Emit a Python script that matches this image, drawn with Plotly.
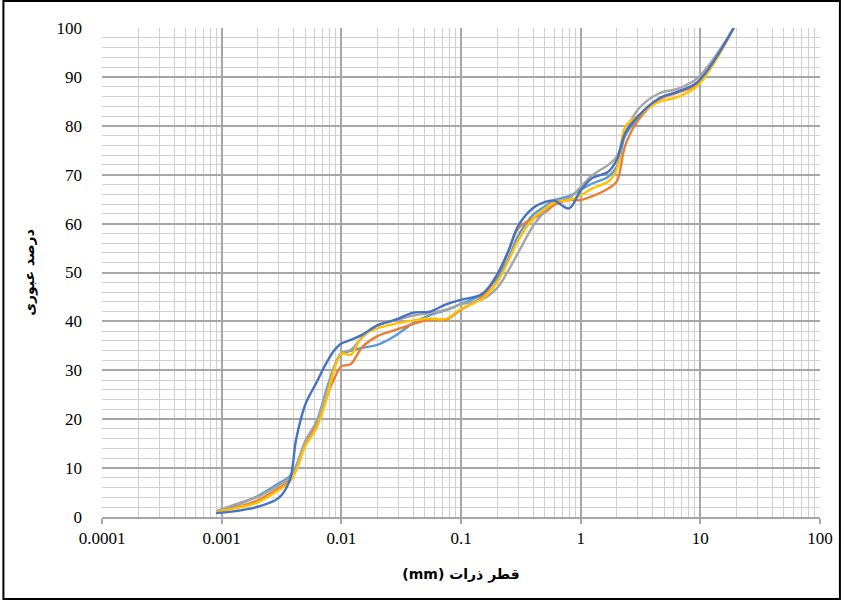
import plotly.graph_objects as go

# particle diameter (mm) at which passing percentages were read
diameter_mm = [0.0009, 0.0013, 0.002, 0.003, 0.0037, 0.0042, 0.005, 0.0062, 0.0075, 0.0088,
               0.01, 0.012, 0.015, 0.02, 0.028, 0.04, 0.055, 0.075, 0.1, 0.15, 0.2, 0.25,
               0.3, 0.4, 0.5, 0.6, 0.8, 1.0, 1.25, 1.7, 2.0, 2.36, 3.0, 4.5, 6.5, 9.5, 19]

series_light_blue = [1.1, 2.4, 4.3, 6.9, 8.3, 10.5, 15.5, 19.5, 26, 31, 33.3, 34.0, 34.6, 35.2,
                     37.0, 39.7, 41.3, 42.3, 43.6, 45.5, 48.8, 53, 57.5, 61.8, 63.5, 64.8, 65.6,
                     66.9, 68.2, 69.6, 71.6, 78.0, 81.5, 85.5, 87.0, 88.8, 100]
series_orange = [1.0, 1.9, 3.4, 5.9, 7.5, 10, 15, 19, 24.5, 28.5, 30.8, 31.3, 34.8, 37.0, 38.2,
                 39.5, 40.3, 40.4, 42.4, 45.0, 49.5, 54.5, 59.0, 61.1, 62.2, 63.8, 64.8, 64.8,
                 65.6, 67.2, 68.6, 76.0, 81.0, 85.4, 86.8, 88.6, 100]
series_gray = [1.2, 2.6, 4.1, 6.5, 8.0, 10.5, 15.5, 19.5, 25.5, 31, 33.6, 34.2, 36.8, 39.2, 40.2,
               41.2, 41.7, 42.4, 43.5, 44.5, 46.8, 50.5, 54.0, 59.5, 62.5, 64.5, 65.2, 67.5,
               69.9, 72.0, 73.7, 78.5, 83.3, 86.6, 87.6, 89.8, 100]
series_yellow = [1.0, 1.8, 3.0, 5.5, 7.2, 9.5, 14.5, 18.2, 24, 30.5, 33.4, 33.2, 37.0, 38.6,
                 39.5, 40.2, 40.6, 40.5, 42.6, 44.6, 48.0, 52.5, 56.5, 61.0, 63.0, 64.3, 64.8,
                 65.8, 67.2, 68.6, 71.0, 79.8, 82.0, 84.9, 85.9, 88.2, 100]
series_dark_blue = [0.8, 1.2, 2.1, 3.9, 7.5, 16, 23, 27.5, 31.5, 34.2, 35.5, 36.2, 37.3, 39.2,
                    40.3, 41.8, 42.0, 43.5, 44.4, 45.6, 49.5, 54.5, 59.5, 63.2, 64.4, 64.7, 63.1,
                    66.8, 69.3, 70.6, 73.0, 78.5, 81.9, 85.6, 87.0, 89.0, 100]

x_tick_vals = [0.0001, 0.001, 0.01, 0.1, 1, 10, 100]
x_tick_text = ["0.0001", "0.001", "0.01", "0.1", "1", "10", "100"]
y_tick_vals = [0, 10, 20, 30, 40, 50, 60, 70, 80, 90, 100]

x_title = "(mm) قطر ذرات"
y_title = "درصد عبوری"

series = [
    (series_light_blue, "#5B9BD5"),
    (series_orange, "#ED7D31"),
    (series_gray, "#A5A5A5"),
    (series_yellow, "#FFC000"),
    (series_dark_blue, "#4472C4"),
]

fig = go.Figure()
for vals, col in series:
    fig.add_trace(go.Scatter(x=diameter_mm, y=vals, mode="lines",
                             line=dict(color=col, width=2.4, shape="spline", smoothing=1.0),
                             showlegend=False, hoverinfo="skip"))

minor_x = [m * 10 ** e for e in range(-4, 2) for m in range(2, 10)]

FONT = "Liberation Serif"
TITLE_FONT = "DejaVu Sans"
MAJOR = "#A6A6A6"
MINOR = "#D0D0D0"

fig.update_layout(
    width=845, height=601,
    margin=dict(l=102, r=22, t=28, b=84),
    paper_bgcolor="white", plot_bgcolor="white",
    font=dict(family=FONT, size=17, color="black"),
    xaxis=dict(
        type="log", range=[-4, 2],
        tickmode="array", tickvals=x_tick_vals, ticktext=x_tick_text,
        tickfont=dict(family=FONT, size=17, color="black"),
        showgrid=True, gridcolor=MAJOR, gridwidth=1.5,
        minor=dict(tickvals=minor_x, showgrid=True, gridcolor=MINOR, gridwidth=1, ticks=""),
        showline=True, linecolor=MAJOR, linewidth=1.5,
        ticks="outside", ticklen=5, tickcolor=MAJOR, tickwidth=1.5,
        ticklabelstandoff=0,
        zeroline=False,
        title=dict(text=x_title, font=dict(family=TITLE_FONT, size=14, weight="bold", color="black"), standoff=22),
    ),
    yaxis=dict(
        range=[0, 100],
        tickmode="array", tickvals=y_tick_vals,
        tickfont=dict(family=FONT, size=17, color="black"),
        showgrid=True, gridcolor=MAJOR, gridwidth=1.5,
        minor=dict(dtick=2, showgrid=True, gridcolor=MINOR, gridwidth=1, ticks=""),
        showline=False, zeroline=False,
        ticks="", ticklabelstandoff=19,
        title=dict(text=y_title, font=dict(family=TITLE_FONT, size=14, weight="bold", color="black"), standoff=18),
    ),
    shapes=[dict(type="rect", xref="paper", yref="paper",
                 x0=(3 - 102) / 721, x1=(843 - 102) / 721,
                 y0=(517 - 599) / 489, y1=(517 - 1) / 489,
                 line=dict(color="black", width=2), fillcolor="rgba(0,0,0,0)", layer="above")],
)

fig.write_html("out.html", config={"displayModeBar": False},
               post_script="document.body.style.margin='0px';document.body.style.padding='0px';")
